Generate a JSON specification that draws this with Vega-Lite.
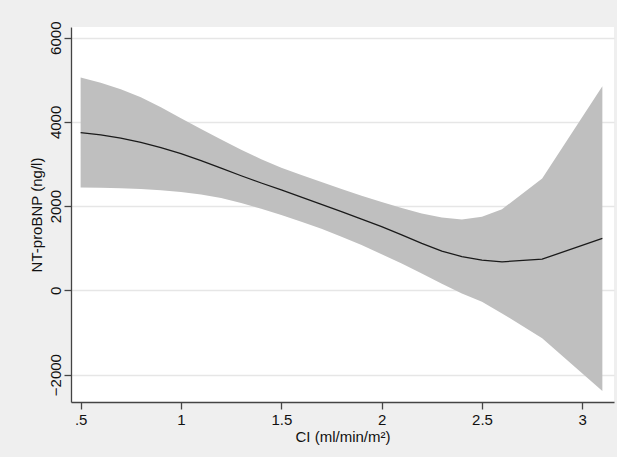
{
  "$schema": "https://vega.github.io/schema/vega-lite/v6.json",
  "autosize": "none",
  "width": 543,
  "height": 375,
  "padding": {"left": 71, "top": 27, "right": 3, "bottom": 55},
  "background": "#efefef",
  "config": {
    "view": {"fill": "white", "stroke": null},
    "font": "Liberation Sans"
  },
  "data": {
    "values": [
      {"ci": 0.5, "lo": 2443, "fit": 3747, "hi": 5052},
      {"ci": 0.6, "lo": 2438, "fit": 3691, "hi": 4930},
      {"ci": 0.7, "lo": 2428, "fit": 3615, "hi": 4775},
      {"ci": 0.8, "lo": 2408, "fit": 3515, "hi": 4585},
      {"ci": 0.9, "lo": 2377, "fit": 3392, "hi": 4350},
      {"ci": 1.0, "lo": 2335, "fit": 3248, "hi": 4090},
      {"ci": 1.1, "lo": 2278, "fit": 3082, "hi": 3830},
      {"ci": 1.2, "lo": 2192, "fit": 2902, "hi": 3580},
      {"ci": 1.3, "lo": 2075, "fit": 2722, "hi": 3340},
      {"ci": 1.4, "lo": 1940, "fit": 2550, "hi": 3115},
      {"ci": 1.5, "lo": 1790, "fit": 2385, "hi": 2912},
      {"ci": 1.6, "lo": 1630, "fit": 2215, "hi": 2742},
      {"ci": 1.7, "lo": 1461, "fit": 2045, "hi": 2576},
      {"ci": 1.8, "lo": 1271, "fit": 1870, "hi": 2410},
      {"ci": 1.9, "lo": 1075, "fit": 1690, "hi": 2248},
      {"ci": 2.0, "lo": 860, "fit": 1512, "hi": 2100},
      {"ci": 2.1, "lo": 638, "fit": 1320, "hi": 1955},
      {"ci": 2.2, "lo": 400, "fit": 1115, "hi": 1825},
      {"ci": 2.3, "lo": 155, "fit": 935, "hi": 1728},
      {"ci": 2.4, "lo": -71, "fit": 803, "hi": 1684},
      {"ci": 2.5, "lo": -270, "fit": 719, "hi": 1746},
      {"ci": 2.6, "lo": -546, "fit": 678, "hi": 1928},
      {"ci": 2.8, "lo": -1139, "fit": 742, "hi": 2657},
      {"ci": 3.1, "lo": -2389, "fit": 1233, "hi": 4846}
    ]
  },
  "encoding": {
    "x": {
      "field": "ci",
      "type": "quantitative",
      "scale": {"domain": [0.452, 3.158], "nice": false, "zero": false},
      "axis": {
        "values": [0.5, 1, 1.5, 2, 2.5, 3],
        "labelExpr": "datum.value == 0.5 ? '.5' : format(datum.value, '~g')",
        "title": "CI (ml/min/m²)",
        "grid": false,
        "tickSize": 7,
        "tickColor": "#444444",
        "tickWidth": 1.3,
        "domainColor": "#444444",
        "domainWidth": 1.3,
        "labelFontSize": 15,
        "labelColor": "#111111",
        "labelPadding": 3,
        "titleFontSize": 15,
        "titleFontWeight": "normal",
        "titleColor": "#111111",
        "titlePadding": 2
      }
    }
  },
  "layer": [
    {
      "mark": {"type": "area", "color": "#bfbfbf", "opacity": 1},
      "encoding": {
        "y": {
          "field": "lo",
          "type": "quantitative",
          "scale": {"domain": [-2650, 6254], "nice": false, "zero": false},
          "axis": {
            "values": [-2000, 0, 2000, 4000, 6000],
            "title": "NT-proBNP (ng/l)",
            "format": "d",
            "grid": true,
            "gridColor": "#e6e6e6",
            "gridWidth": 1.3,
            "tickSize": 7,
            "tickColor": "#444444",
            "tickWidth": 1.3,
            "domainColor": "#444444",
            "domainWidth": 1.3,
            "labelAngle": -90,
            "labelAlign": "center",
            "labelBaseline": "alphabetic",
            "labelPadding": 4,
            "labelFontSize": 15,
            "labelColor": "#111111",
            "titleFontSize": 15,
            "titleFontWeight": "normal",
            "titleColor": "#111111",
            "titlePadding": 4
          }
        },
        "y2": {"field": "hi"}
      }
    },
    {
      "mark": {"type": "line", "color": "#1a1a1a", "strokeWidth": 1.3},
      "encoding": {
        "y": {"field": "fit", "type": "quantitative"}
      }
    }
  ]
}
